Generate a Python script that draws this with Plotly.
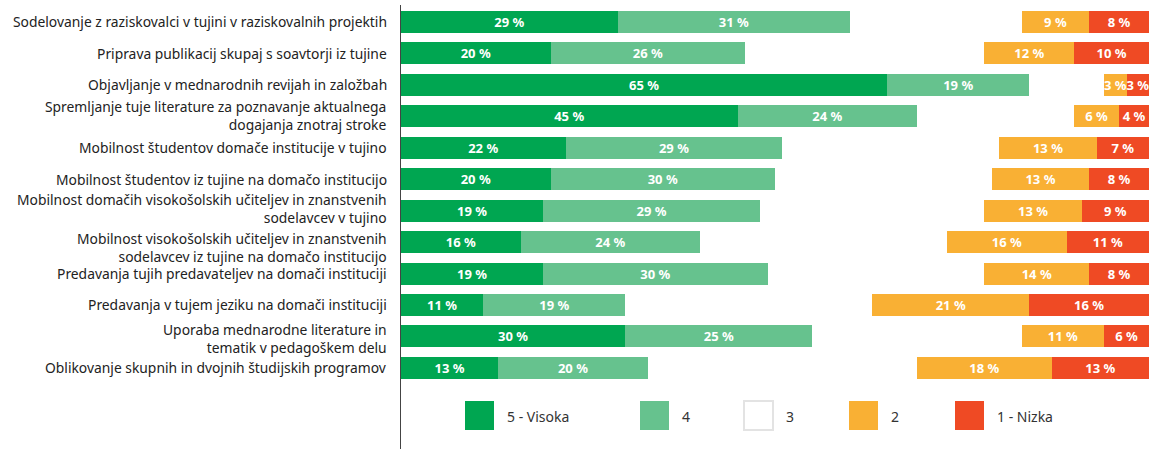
import plotly.graph_objects as go

categories = [
    "Sodelovanje z raziskovalci v tujini v raziskovalnih projektih",
    "Priprava publikacij skupaj s soavtorji iz tujine",
    "Objavljanje v mednarodnih revijah in založbah",
    "Spremljanje tuje literature za poznavanje aktualnega<br>dogajanja znotraj stroke",
    "Mobilnost študentov domače institucije v tujino",
    "Mobilnost študentov iz tujine na domačo institucijo",
    "Mobilnost domačih visokošolskih učiteljev in znanstvenih<br>sodelavcev v tujino",
    "Mobilnost visokošolskih učiteljev in znanstvenih<br>sodelavcev iz tujine na domačo institucijo",
    "Predavanja tujih predavateljev na domači instituciji",
    "Predavanja v tujem jeziku na domači instituciji",
    "Uporaba mednarodne literature in<br>tematik v pedagoškem delu",
    "Oblikovanje skupnih in dvojnih študijskih programov",
]

v5 = [29, 20, 65, 45, 22, 20, 19, 16, 19, 11, 30, 13]
v4 = [31, 26, 19, 24, 29, 30, 29, 24, 30, 19, 25, 20]
v3 = [23, 32, 10, 21, 29, 29, 30, 33, 29, 33, 28, 36]
v2 = [9, 12, 3, 6, 13, 13, 13, 16, 14, 21, 11, 18]
v1 = [8, 10, 3, 4, 7, 8, 9, 11, 8, 16, 6, 13]

series_names = ["5 - Visoka", "4", "3", "2", "1 - Nizka"]
series_values = [v5, v4, v3, v2, v1]
colors = ["#00A651", "#66C28E", "#FFFFFF", "#F9B034", "#EF4A24"]
show_text = [True, True, False, True, True]

FONT = "Noto Sans"
W, H = 1149, 449
ML, MT = 401, 5
PW, PH = W - ML, H - MT

fig = go.Figure()
for name, vals, col, st in zip(series_names, series_values, colors, show_text):
    fig.add_trace(go.Bar(
        y=categories, x=vals, name=name, orientation="h",
        marker=dict(color=col, line=dict(width=0)),
        width=0.7,
        text=[f"{v} %" for v in vals] if st else None,
        textposition="inside" if st else "none",
        insidetextanchor="middle",
        constraintext="none",
        textangle=0,
        textfont=dict(color="white", size=13, family=FONT, weight="bold"),
        showlegend=False,
        hoverinfo="skip",
        cliponaxis=False,
    ))

fig.update_layout(
    barmode="stack",
    width=W, height=H,
    margin=dict(l=ML, r=0, t=MT, b=0, autoexpand=False),
    paper_bgcolor="white", plot_bgcolor="white",
    font=dict(family=FONT, size=14, color="#222222"),
    xaxis=dict(range=[0, 100], visible=False, fixedrange=True),
    yaxis=dict(
        type="category",
        range=[13.58, -0.54],
        showline=True, linecolor="#444444", linewidth=1,
        ticks="", showgrid=False, zeroline=False,
        showticklabels=False, fixedrange=True,
    ),
)

# category labels (right-aligned, small vertical nudges as in the reference)
label_shift = {3: 1, 6: 2, 7: -5, 10: -2.5}
for i, cat in enumerate(categories):
    fig.add_annotation(xref="paper", yref="y", x=0, y=cat, xshift=-12,
                       yshift=label_shift.get(i, 0),
                       text=cat, showarrow=False, xanchor="right", yanchor="middle",
                       align="right",
                       font=dict(size=13.85, color="#222222", family=FONT))

# custom legend (pixel positions converted to paper coords)
leg_sq = [465, 640, 744, 849, 955]
leg_tx = [505, 680, 784, 889, 995]
sq_top, sq_bot, tx_y = 401, 430, 416
for i, name in enumerate(series_names):
    is_white = colors[i] == "#FFFFFF"
    fig.add_shape(type="rect", xref="paper", yref="paper",
                  x0=(leg_sq[i] - ML) / PW, x1=(leg_sq[i] + 29 - ML) / PW,
                  y0=(H - sq_bot) / PH, y1=(H - sq_top) / PH,
                  fillcolor=colors[i],
                  line=dict(color="#E3E3E3" if is_white else colors[i], width=2 if is_white else 0))
    fig.add_annotation(xref="paper", yref="paper",
                       x=(leg_tx[i] - ML) / PW, y=(H - tx_y) / PH,
                       text=name, showarrow=False, xanchor="left", yanchor="middle",
                       font=dict(size=14, color="#333333", family=FONT))

fig.write_html("out.html", config={"displayModeBar": False},
               post_script="document.body.style.margin='0';document.body.style.overflow='hidden';")
